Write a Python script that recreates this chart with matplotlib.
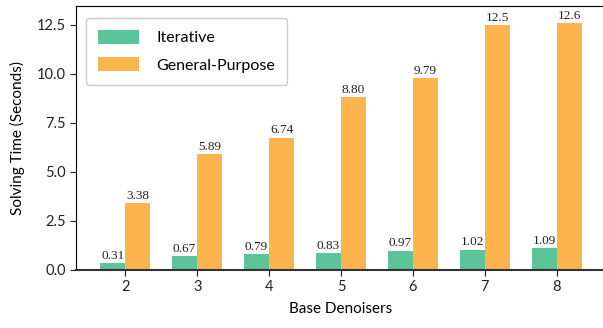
import numpy as np
import matplotlib.pyplot as plt

plt.rcParams['font.family'] = ['Lato', 'DejaVu Sans']

denoisers = ['2', '3', '4', '5', '6', '7', '8']
iterative = [0.31, 0.67, 0.79, 0.83, 0.97, 1.02, 1.09]
general = [3.38, 5.89, 6.74, 8.80, 9.79, 12.5, 12.6]
iter_labels = ['0.31', '0.67', '0.79', '0.83', '0.97', '1.02', '1.09']
gen_labels = ['3.38', '5.89', '6.74', '8.80', '9.79', '12.5', '12.6']

green = '#5cc49a'
orange = '#fdb44e'
width = 0.35

fig = plt.figure(figsize=(6.03, 3.28), dpi=100)
ax = fig.add_axes([76 / 603, 1 - 269.5 / 328, (606 - 76) / 603, (269.5 - 6) / 328])

x = np.arange(2, 2 + len(denoisers))
b1 = ax.bar(x - width / 2, iterative, width, color=green, label='Iterative')
b2 = ax.bar(x + width / 2, general, width, color=orange, label='General-Purpose')

for bars, labels in ((b1, iter_labels), (b2, gen_labels)):
    for rect, lab in zip(bars, labels):
        ax.annotate(lab, (rect.get_x() + rect.get_width() / 2, rect.get_height()),
                    xytext=(0, 1), textcoords='offset points', ha='center', va='bottom',
                    fontsize=9.5, family='Liberation Serif', color='#222222')

ax.set_xlim(1.315, 8.685)
ax.set_ylim(0, 13.47)
ax.set_xticks(x)
ax.set_xticklabels(denoisers)
ax.set_yticks([0, 2.5, 5, 7.5, 10, 12.5])
ax.set_yticklabels(['0.0', '2.5', '5.0', '7.5', '10.0', '12.5'])
ax.tick_params(labelsize=10.5, length=4, colors='#222222')

ax.spines['right'].set_visible(False)
ax.spines['bottom'].set_color('#333333')
ax.spines['bottom'].set_linewidth(1.5)

ax.set_xlabel('Base Denoisers', fontsize=11, labelpad=6)
ax.set_ylabel('Solving Time (Seconds)', fontsize=11, labelpad=8)

ax.legend(loc='upper left', fontsize=11.5, handlelength=2.6, handleheight=0.95,
          borderpad=0.75, labelspacing=0.75, handletextpad=1.1,
          bbox_to_anchor=(0.003, 0.985), framealpha=1, edgecolor='#cccccc')

fig.savefig('out.png', dpi=100)
